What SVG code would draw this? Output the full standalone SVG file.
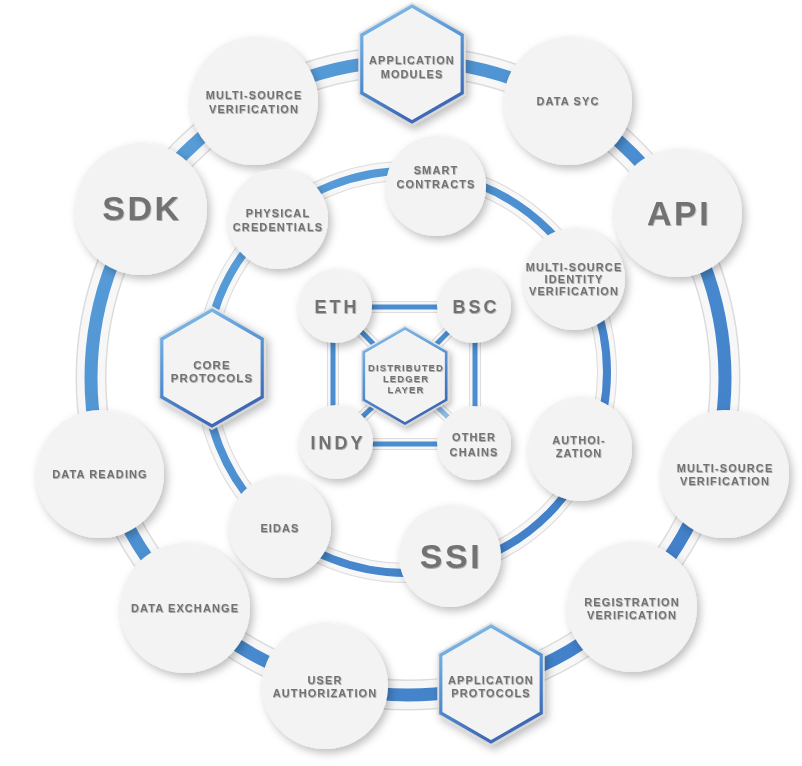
<svg xmlns="http://www.w3.org/2000/svg" xmlns:xlink="http://www.w3.org/1999/xlink" width="802" height="766" viewBox="0 0 802 766">
<defs>
<linearGradient id="blueG" x1="0" y1="0" x2="1" y2="1">
<stop offset="0" stop-color="#5ba2da"/>
<stop offset="0.5" stop-color="#4a8dd0"/>
<stop offset="1" stop-color="#3f7bc6"/>
</linearGradient>
<linearGradient id="hexStroke" x1="0" y1="0" x2="0.35" y2="1">
<stop offset="0" stop-color="#86c0ec"/>
<stop offset="0.5" stop-color="#5896d6"/>
<stop offset="1" stop-color="#3f6ab6"/>
</linearGradient>
<linearGradient id="hexEdge" x1="0" y1="0" x2="0.3" y2="1">
<stop offset="0" stop-color="#e8e8e8"/>
<stop offset="1" stop-color="#d6d6d6"/>
</linearGradient>
<filter id="shadow" x="-30%" y="-30%" width="160%" height="160%">
<feDropShadow dx="3" dy="4" stdDeviation="4" flood-color="#000" flood-opacity="0.26"/>
</filter>
<filter id="tshadow" x="-10%" y="-30%" width="120%" height="160%">
<feDropShadow dx="0.6" dy="1" stdDeviation="0.7" flood-color="#000" flood-opacity="0.3"/>
</filter>
<polygon id="hexO" points="0,-62 53.7,-31 53.7,31 0,62 -53.7,31 -53.7,-31"/>
<polygon id="hexI" points="0,-58 50.2,-29 50.2,29 0,58 -50.2,29 -50.2,-29"/>
<style>
.node{fill:#f3f3f3;filter:url(#shadow)}
.ho{fill:url(#hexEdge)}
.hi{fill:#f3f3f3;stroke:url(#hexStroke);stroke-width:3.2}
.hexg{filter:url(#shadow)}
text{font-family:"Liberation Sans",Arial,sans-serif;font-weight:bold;fill:#727272;text-anchor:middle;filter:url(#tshadow)}
.s{font-size:11px;letter-spacing:1.1px}
.xs{font-size:9.5px;letter-spacing:1.1px}
.m{font-size:18px;letter-spacing:3px}
.l{font-size:34px;letter-spacing:2.5px}
.band1{fill:none;stroke:#dcdcdc}
.band2{fill:none;stroke:#f7f7f7}
.band3{fill:none;stroke:url(#blueG)}
</style>
</defs>
<rect width="802" height="766" fill="#ffffff"/>

<g id="connectors">
<circle cx="408" cy="378" r="317" class="band1" stroke-width="31"/>
<circle cx="408" cy="378" r="317" class="band2" stroke-width="28"/>
<circle cx="408" cy="378" r="317" class="band3" stroke-width="13"/>
<circle cx="406" cy="372" r="201" class="band1" stroke-width="20"/>
<circle cx="406" cy="372" r="201" class="band2" stroke-width="18"/>
<circle cx="406" cy="372" r="201" class="band3" stroke-width="8"/>
<g stroke-linecap="butt">
<path d="M336,307 H474 M336,444 H474 M333,306 V442 M475,306 V442" fill="none" stroke="#dedede" stroke-width="12"/>
<path d="M336,306 L405,376 M474,306 L405,376 M336,442 L405,376 M474,442 L405,376" fill="none" stroke="#dedede" stroke-width="12"/>
<path d="M336,307 H474 M336,444 H474 M333,306 V442 M475,306 V442" fill="none" stroke="#f7f7f7" stroke-width="10"/>
<path d="M336,306 L405,376 M474,306 L405,376 M336,442 L405,376 M474,442 L405,376" fill="none" stroke="#f7f7f7" stroke-width="10"/>
<path d="M336,307 H474 M336,444 H474 M333,306 V442 M475,306 V442" fill="none" stroke="#4a8dd0" stroke-width="5"/>
<path d="M336,306 L405,376 M474,306 L405,376 M336,442 L405,376" fill="none" stroke="#4a8dd0" stroke-width="5"/>
<path d="M474,442 L405,376" fill="none" stroke="#8fbde6" stroke-width="5"/>
</g>
</g>

<g id="app-modules" class="hexg" transform="translate(412,64)">
<use href="#hexO" class="ho"/><use href="#hexI" class="hi"/>
</g>
<g id="app-modules-label"><text class="s" x="412" y="64">APPLICATION</text><text class="s" x="412" y="78">MODULES</text></g>

<g id="data-syc"><circle class="node" cx="568" cy="101" r="64"/><text class="s" x="568" y="105">DATA SYC</text></g>
<g id="api"><circle class="node" cx="678" cy="213" r="64"/><text class="l" x="679" y="225">API</text></g>
<g id="msv-right"><circle class="node" cx="725" cy="474" r="64"/><text class="s" x="725" y="472">MULTI-SOURCE</text><text class="s" x="725" y="485">VERIFICATION</text></g>
<g id="registration-verification"><circle class="node" cx="632" cy="607" r="65"/><text class="s" x="632" y="606">REGISTRATION</text><text class="s" x="632" y="619">VERIFICATION</text></g>

<g id="app-protocols" class="hexg" transform="translate(491,684)">
<use href="#hexO" class="ho"/><use href="#hexI" class="hi"/>
</g>
<g id="app-protocols-label"><text class="s" x="491" y="684">APPLICATION</text><text class="s" x="491" y="697">PROTOCOLS</text></g>

<g id="user-authorization"><circle class="node" cx="325" cy="686" r="63"/><text class="s" x="325" y="684">USER</text><text class="s" x="325" y="697">AUTHORIZATION</text></g>
<g id="data-exchange"><circle class="node" cx="185" cy="608" r="65"/><text class="s" x="185" y="612">DATA EXCHANGE</text></g>
<g id="data-reading"><circle class="node" cx="100" cy="474" r="64"/><text class="s" x="100" y="478">DATA READING</text></g>
<g id="sdk"><circle class="node" cx="141" cy="209" r="66"/><text class="l" x="142" y="220">SDK</text></g>
<g id="msv-top-left"><circle class="node" cx="254" cy="101" r="64"/><text class="s" x="254" y="99">MULTI-SOURCE</text><text class="s" x="254" y="113">VERIFICATION</text></g>

<g id="physical-credentials"><circle class="node" cx="278" cy="219" r="50"/><text class="s" x="278" y="217">PHYSICAL</text><text class="s" x="278" y="231">CREDENTIALS</text></g>
<g id="smart-contracts"><circle class="node" cx="436" cy="186" r="50"/><text class="s" x="436" y="174">SMART</text><text class="s" x="436" y="188">CONTRACTS</text></g>
<g id="msiv"><circle class="node" cx="574" cy="279" r="51"/><text class="s" x="574" y="271">MULTI-SOURCE</text><text class="s" x="574" y="283">IDENTITY</text><text class="s" x="574" y="295">VERIFICATION</text></g>
<g id="authoization"><circle class="node" cx="580" cy="449" r="52"/><text class="s" x="579" y="444">AUTHOI-</text><text class="s" x="579" y="457">ZATION</text></g>
<g id="ssi"><circle class="node" cx="450" cy="556" r="51"/><text class="l" x="451" y="568">SSI</text></g>
<g id="eidas"><circle class="node" cx="280" cy="527" r="51"/><text class="s" x="280" y="532">EIDAS</text></g>

<g id="core-protocols" class="hexg" transform="translate(212,368)">
<use href="#hexO" class="ho"/><use href="#hexI" class="hi"/>
</g>
<g id="core-protocols-label"><text class="s" x="212" y="369" style="font-size:11.5px">CORE</text><text class="s" x="212" y="382" style="font-size:11.5px">PROTOCOLS</text></g>

<g id="eth"><circle class="node" cx="335" cy="306" r="37"/><text class="m" x="337" y="312.5">ETH</text></g>
<g id="bsc"><circle class="node" cx="474" cy="306" r="37"/><text class="m" x="476" y="312.5">BSC</text></g>
<g id="indy"><circle class="node" cx="336" cy="442" r="37"/><text class="m" x="338" y="448.5">INDY</text></g>
<g id="other-chains"><circle class="node" cx="474" cy="443" r="37"/><text class="s" x="474" y="441">OTHER</text><text class="s" x="474" y="456">CHAINS</text></g>

<g id="distributed-ledger" class="hexg" transform="translate(405,376) scale(0.82)">
<use href="#hexO" class="ho"/><use href="#hexI" class="hi"/>
</g>
<g id="distributed-ledger-label"><text class="xs" x="406" y="371">DISTRIBUTED</text><text class="xs" x="406" y="382">LEDGER</text><text class="xs" x="406" y="393">LAYER</text></g>
</svg>
